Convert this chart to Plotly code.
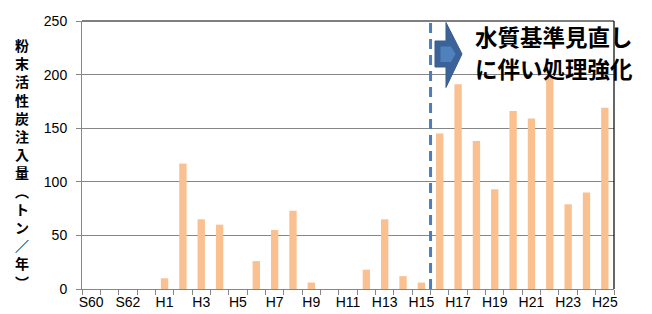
import plotly.graph_objects as go

categories = ["S60", "S61", "S62", "S63"] + [f"H{i}" for i in range(1, 26)]
values = [0, 0, 0, 0,
          10, 117, 65, 60, 0, 26, 55, 73, 6, 0,
          0, 18, 65, 12, 6, 145, 191, 138, 93, 166,
          159, 198, 79, 90, 169]
tick_labels = [c if i % 2 == 0 else "" for i, c in enumerate(categories)]
y_ticks = [0, 50, 100, 150, 200, 250]
y_title = "粉末活性炭注入量︵トン／年︶"
note_lines = ["水質基準見直し", "に伴い処理強化"]
change_year = "H16"

W, H = 652, 314
L, R, T, B = 82, 38, 21, 25
PW, PH = W - L - R, H - T - B

def px(x):
    return (x - L) / PW

def py(y):
    return (H - B - y) / PH

fig = go.Figure()
fig.add_trace(go.Bar(
    x=categories, y=values,
    marker=dict(color="#FAC090", line=dict(width=0)),
    hoverinfo="x+y",
))

cjk = "Noto Sans CJK JP"
lat = "Liberation Sans, Arial, sans-serif"

fig.update_layout(
    width=W, height=H,
    margin=dict(l=L, r=R, t=T, b=B, pad=0, autoexpand=False),
    paper_bgcolor="white", plot_bgcolor="white",
    bargap=0.6, showlegend=False,
    font=dict(family=lat, size=14, color="#000"),
    xaxis=dict(
        type="category", tickvals=categories, ticktext=tick_labels,
        tickson="boundaries", ticks="outside", ticklen=5, tickcolor="#868686",
        showline=True, linecolor="#868686", linewidth=1,
        showgrid=False, tickangle=0,
        tickfont=dict(family=lat, size=14, color="#000"),
    ),
    yaxis=dict(
        range=[0, 250], tickvals=y_ticks,
        ticks="outside", ticklen=5, tickcolor="#868686",
        showline=True, linecolor="#868686", linewidth=1,
        showgrid=True, gridcolor="#868686", gridwidth=1,
        zeroline=False, ticklabelstandoff=6,
        tickfont=dict(family=lat, size=14, color="#000"),
    ),
)

# plot-area border (top and right)
fig.add_shape(type="line", xref="paper", yref="paper", x0=0, x1=1, y0=1, y1=1,
              line=dict(color="#000", width=1.2))
fig.add_shape(type="line", xref="paper", yref="paper", x0=1, x1=1, y0=0, y1=1,
              line=dict(color="#000", width=1.2))

# dashed reference line at the start of the change year
xline = categories.index(change_year) - 0.5
fig.add_shape(type="line", xref="x", yref="y", x0=xline, x1=xline, y0=0, y1=250,
              line=dict(color="#4A7EBB", width=3, dash="10px,6px"))

# block arrow
outer = [(435, 41), (446, 41), (446, 22.5), (462, 54), (446, 87.5), (446, 67), (435, 67)]
inner = [(440.5, 46.5), (451, 46.5), (455.5, 54), (451, 62), (440.5, 62)]
def path(pts):
    return "M " + " L ".join(f"{px(a):.5f},{py(b):.5f}" for a, b in pts) + " Z"
fig.add_shape(type="path", xref="paper", yref="paper", path=path(outer),
              fillcolor="#3C6399", line=dict(color="#385D8A", width=1))
fig.add_shape(type="path", xref="paper", yref="paper", path=path(inner),
              fillcolor="#4F81BD", line=dict(width=0))

# note text
for i, line in enumerate(note_lines):
    fig.add_annotation(xref="paper", yref="paper", x=px(473), y=py(36 + 32 * i),
                       xanchor="left", yanchor="middle", showarrow=False,
                       text=f"<b>{line}</b>",
                       font=dict(family=cjk, size=22.5, color="#000"))

# vertical y-axis title (stacked characters)
fig.add_annotation(xref="paper", yref="paper", x=px(22), y=py(163.5),
                   xanchor="center", yanchor="middle", showarrow=False,
                   text="<b>" + "<br>".join(list(y_title)) + "</b>",
                   font=dict(family=cjk, size=14, color="#000"))

fig.write_html("out.html", config={"displayModeBar": False},
               post_script="document.body.style.margin='0';document.body.style.padding='0';")
